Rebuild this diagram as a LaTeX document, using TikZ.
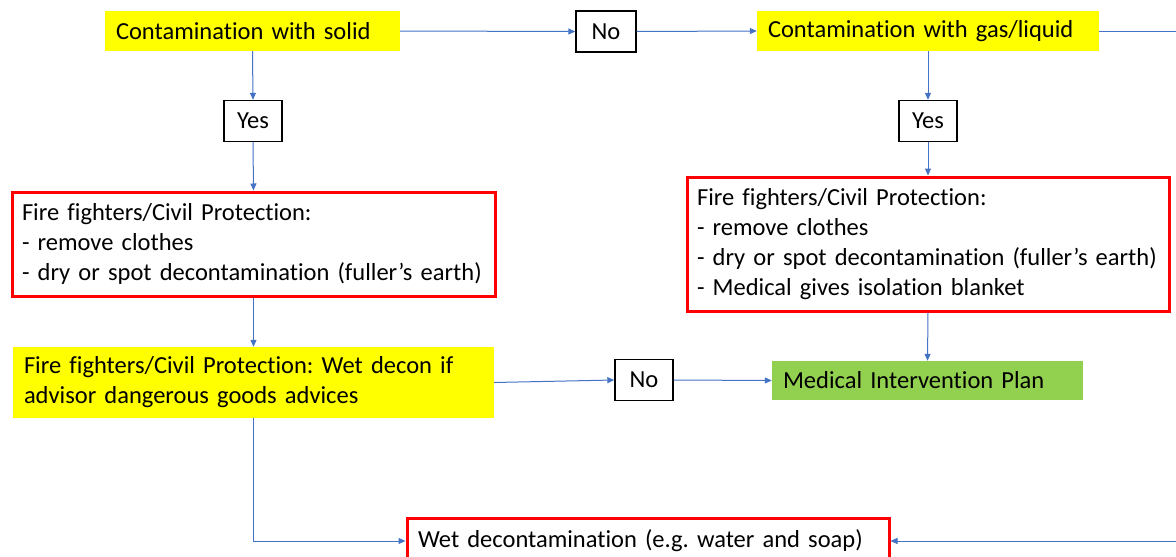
\documentclass[tikz,border=0pt]{standalone}
\usepackage{fontspec}
\setmainfont{Carlito}[RawFeature=-liga]
\usetikzlibrary{arrows.meta}
\definecolor{hiyellow}{HTML}{FFFF00}
\definecolor{medgreen}{HTML}{92D050}
\definecolor{alertred}{HTML}{FF0000}
\definecolor{flowblue}{HTML}{4472C4}
\frenchspacing
\newcommand{\boxfont}{\fontsize{24.5}{30}\selectfont\spaceskip=4.6pt plus 1pt minus 1pt\relax}
\begin{document}
\begin{tikzpicture}[x=1pt,y=-1pt,
  every node/.style={font=\boxfont, inner ysep=0pt},
  yellowbox/.style={fill=hiyellow, draw=none, align=left, inner xsep=11pt},
  greenbox/.style={fill=medgreen, draw=none, align=left, inner xsep=11pt},
  redbox/.style={fill=white, draw=alertred, line width=3pt, align=left, inner xsep=10pt},
  answer/.style={fill=white, draw=black, line width=1.4pt, minimum width=58pt, minimum height=41pt, inner xsep=0pt},
  flow/.style={draw=flowblue, line width=1pt},
  arr/.style={flow, -{Triangle[length=7pt,width=6pt]}}
]
\useasboundingbox (0,0) rectangle (1176,557);
\clip (0,0) rectangle (1176,557);

% decision boxes
\node[yellowbox, minimum width=295pt, minimum height=40pt, text width=273pt] (solid) at (252.5,31) {Contamination with solid};
\node[answer, minimum width=60pt] (noA) at (606,31.5) {No};
\node[yellowbox, minimum width=342pt, minimum height=40pt, text width=320pt] (gas) at (928,31) {Contamination with gas/liquid};

\node[answer] (yesA) at (253,121) {Yes};
\node[answer] (yesB) at (928,121) {Yes};

% action boxes
\node[redbox, minimum width=483pt, minimum height=104pt, text width=463pt] (fireA) at (253.5,244)
  {Fire fighters/Civil Protection:\\- remove clothes\\- dry or spot decontamination (fuller’s earth)};
\node[redbox, minimum width=482pt, minimum height=134pt, text width=462pt] (fireB) at (928,244)
  {Fire fighters/Civil Protection:\\- remove clothes\\- dry or spot decontamination (fuller’s earth)\\- Medical gives isolation blanket};

\node[yellowbox, minimum width=481pt, minimum height=71pt, text width=459pt] (wetif) at (253.5,382.5)
  {Fire fighters/Civil Protection: Wet decon if\\advisor dangerous goods advices};
\node[answer] (noB) at (644,380) {No};
\node[greenbox, minimum width=311pt, minimum height=39pt, text width=289pt] (mip) at (927.5,380.5) {Medical Intervention Plan};

\node[redbox, minimum width=482pt, minimum height=46pt, text width=460pt, inner xsep=11pt] (wetdecon) at (648,541)
  {Wet decontamination (e.g. water and soap)};

% loose ends at the right margin
\coordinate (outR) at (1176,31);
\coordinate (inR) at (1176,541);

% connectors
\draw[arr] (solid.east) -- (noA.west);
\draw[arr] (noA.east) -- (gas.west);
\draw[flow] (gas.east) -- (outR);
\draw[arr] (solid.south) -- (yesA.north);
\draw[arr] (yesA.south) -- (fireA.north);
\draw[arr] (fireA.south) -- (wetif.north);
\draw[arr] (gas.south) -- (yesB.north);
\draw[arr] (yesB.south) -- (fireB.north);
\draw[arr] (fireB.south) -- (mip.north);
\draw[arr] (wetif.east) -- (noB.west);
\draw[arr] (noB.east) -- (mip.west);
\draw[arr] (wetif.south) |- (wetdecon.west);
\draw[arr] (inR) -- (wetdecon.east);
\end{tikzpicture}
\end{document}
